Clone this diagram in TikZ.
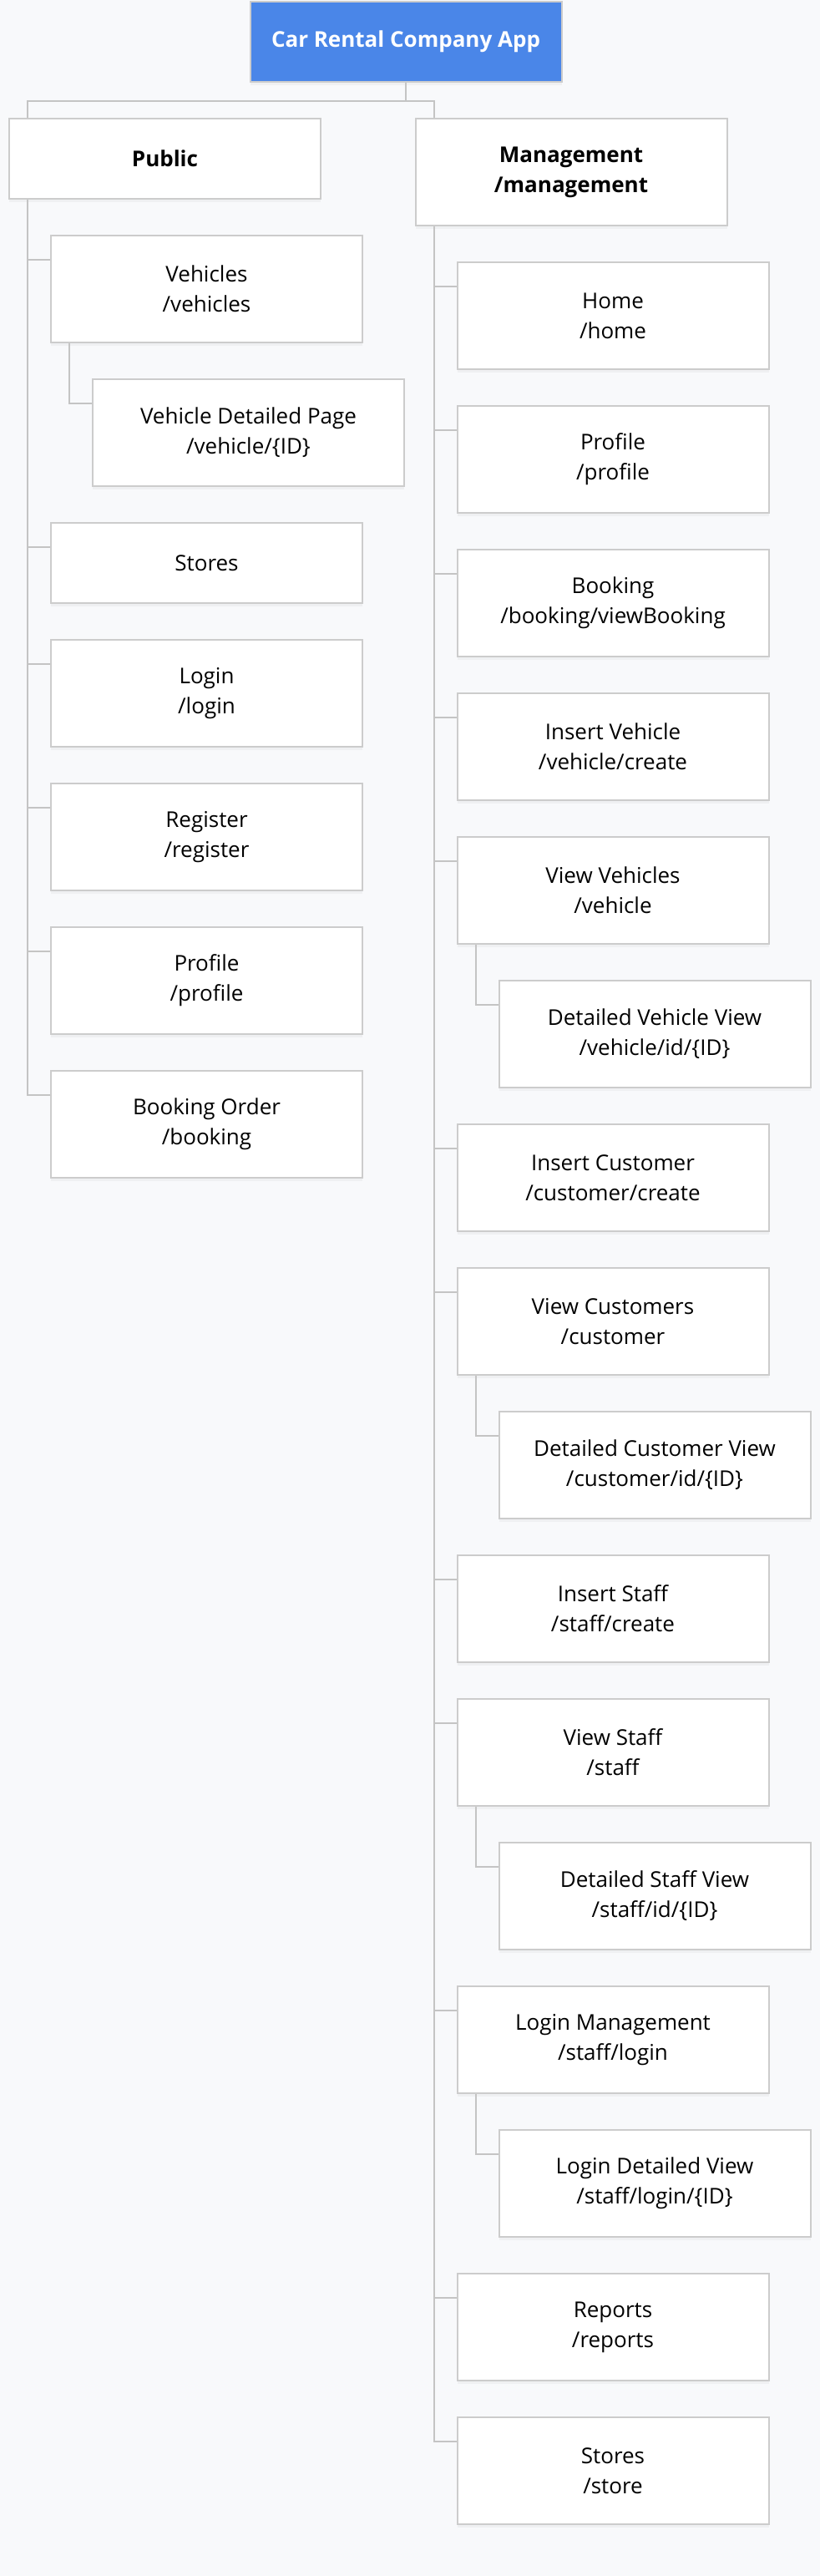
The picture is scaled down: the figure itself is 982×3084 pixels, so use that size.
\documentclass[tikz,border=0pt]{standalone}
\usepackage{fontspec}
\setmainfont{Open Sans}
\usepackage{tikz}
\usetikzlibrary{positioning, calc, shadows}
\definecolor{bgcol}{HTML}{F8F9FB}
\definecolor{boxline}{HTML}{CCCCCC}
\definecolor{linecol}{HTML}{C4C4C4}
\definecolor{appblue}{HTML}{4A86E8}
\tikzset{font=\fontsize{26pt}{36pt}\selectfont}
\tikzset{routebox/.style={rectangle, draw=boxline, line width=2pt, fill=white,
  minimum width=373pt, minimum height=128pt, inner sep=0pt, align=center,
  drop shadow={shadow xshift=0pt, shadow yshift=-4pt, opacity=0.07}}}
\tikzset{onerow/.style={minimum height=96pt}}
\tikzset{groupbox/.style={routebox, font=\fontsize{26pt}{36pt}\selectfont\bfseries}}
\tikzset{titlebox/.style={routebox, onerow, fill=appblue, text=white,
  font=\fontsize{26pt}{36pt}\selectfont\bfseries}}
\tikzset{link/.style={draw=linecol, line width=2pt}}

\begin{document}
\begin{tikzpicture}[node distance=42pt]
  \fill[bgcol] (0,0) rectangle (982pt,-3084pt);
  \useasboundingbox (0,0) rectangle (982pt,-3084pt);
  %Nodes
  \node[titlebox] (app) at (486pt,-50pt) {Car Rental Company App};
  \node[groupbox, onerow, below=of app, xshift=-288.5pt] (public) {Public};
  \node[groupbox, below=of app, xshift=198pt] (mgmt) {Management\\/management};
  % Public pages
  \node[routebox, below=of public, xshift=50pt] (vehicles) {Vehicles\\/vehicles};
  \node[routebox, below=of vehicles, xshift=50pt] (vehdetail) {Vehicle Detailed Page\\/vehicle/\{ID\}};
  \node[routebox, onerow, below=of vehdetail, xshift=-50pt] (stores) {Stores};
  \node[routebox, below=of stores] (login) {Login\\/login};
  \node[routebox, below=of login] (register) {Register\\/register};
  \node[routebox, below=of register] (profile) {Profile\\/profile};
  \node[routebox, below=of profile] (order) {Booking Order\\/booking};
  % Management pages
  \node[routebox, below=of mgmt, xshift=50pt] (home) {Home\\/home};
  \node[routebox, below=of home] (mprofile) {Profile\\/profile};
  \node[routebox, below=of mprofile] (mbooking) {Booking\\/booking/viewBooking};
  \node[routebox, below=of mbooking] (insvehicle) {Insert Vehicle\\/vehicle/create};
  \node[routebox, below=of insvehicle] (viewvehicles) {View Vehicles\\/vehicle};
  \node[routebox, below=of viewvehicles, xshift=50pt] (vehview) {Detailed Vehicle View\\/vehicle/id/\{ID\}};
  \node[routebox, below=of vehview, xshift=-50pt] (inscustomer) {Insert Customer\\/customer/create};
  \node[routebox, below=of inscustomer] (viewcustomers) {View Customers\\/customer};
  \node[routebox, below=of viewcustomers, xshift=50pt] (custview) {Detailed Customer View\\/customer/id/\{ID\}};
  \node[routebox, below=of custview, xshift=-50pt] (insstaff) {Insert Staff\\/staff/create};
  \node[routebox, below=of insstaff] (viewstaff) {View Staff\\/staff};
  \node[routebox, below=of viewstaff, xshift=50pt] (staffview) {Detailed Staff View\\/staff/id/\{ID\}};
  \node[routebox, below=of staffview, xshift=-50pt] (loginmgmt) {Login Management\\/staff/login};
  \node[routebox, below=of loginmgmt, xshift=50pt] (loginview) {Login Detailed View\\/staff/login/\{ID\}};
  \node[routebox, below=of loginview, xshift=-50pt] (reports) {Reports\\/reports};
  \node[routebox, below=of reports] (mstores) {Stores\\/store};
  % Edges
  \draw[link] (app.south) -- ++(0,-22pt) -| ($(public.north west)+(23pt,0)$);
  \draw[link] (app.south) -- ++(0,-22pt) -| ($(mgmt.north west)+(23pt,0)$);
  \draw[link] ($(public.south west)+(23pt,0)$) |- ($(vehicles.north west)+(0,-30pt)$);
  \draw[link] ($(vehicles.south west)+(23pt,0)$) |- ($(vehdetail.north west)+(0,-30pt)$);
  \draw[link] ($(public.south west)+(23pt,0)$) |- ($(stores.north west)+(0,-30pt)$);
  \draw[link] ($(public.south west)+(23pt,0)$) |- ($(login.north west)+(0,-30pt)$);
  \draw[link] ($(public.south west)+(23pt,0)$) |- ($(register.north west)+(0,-30pt)$);
  \draw[link] ($(public.south west)+(23pt,0)$) |- ($(profile.north west)+(0,-30pt)$);
  \draw[link] ($(public.south west)+(23pt,0)$) |- ($(order.north west)+(0,-30pt)$);
  \draw[link] ($(mgmt.south west)+(23pt,0)$) |- ($(home.north west)+(0,-30pt)$);
  \draw[link] ($(mgmt.south west)+(23pt,0)$) |- ($(mprofile.north west)+(0,-30pt)$);
  \draw[link] ($(mgmt.south west)+(23pt,0)$) |- ($(mbooking.north west)+(0,-30pt)$);
  \draw[link] ($(mgmt.south west)+(23pt,0)$) |- ($(insvehicle.north west)+(0,-30pt)$);
  \draw[link] ($(mgmt.south west)+(23pt,0)$) |- ($(viewvehicles.north west)+(0,-30pt)$);
  \draw[link] ($(viewvehicles.south west)+(23pt,0)$) |- ($(vehview.north west)+(0,-30pt)$);
  \draw[link] ($(mgmt.south west)+(23pt,0)$) |- ($(inscustomer.north west)+(0,-30pt)$);
  \draw[link] ($(mgmt.south west)+(23pt,0)$) |- ($(viewcustomers.north west)+(0,-30pt)$);
  \draw[link] ($(viewcustomers.south west)+(23pt,0)$) |- ($(custview.north west)+(0,-30pt)$);
  \draw[link] ($(mgmt.south west)+(23pt,0)$) |- ($(insstaff.north west)+(0,-30pt)$);
  \draw[link] ($(mgmt.south west)+(23pt,0)$) |- ($(viewstaff.north west)+(0,-30pt)$);
  \draw[link] ($(viewstaff.south west)+(23pt,0)$) |- ($(staffview.north west)+(0,-30pt)$);
  \draw[link] ($(mgmt.south west)+(23pt,0)$) |- ($(loginmgmt.north west)+(0,-30pt)$);
  \draw[link] ($(loginmgmt.south west)+(23pt,0)$) |- ($(loginview.north west)+(0,-30pt)$);
  \draw[link] ($(mgmt.south west)+(23pt,0)$) |- ($(reports.north west)+(0,-30pt)$);
  \draw[link] ($(mgmt.south west)+(23pt,0)$) |- ($(mstores.north west)+(0,-30pt)$);
\end{tikzpicture}
\end{document}
